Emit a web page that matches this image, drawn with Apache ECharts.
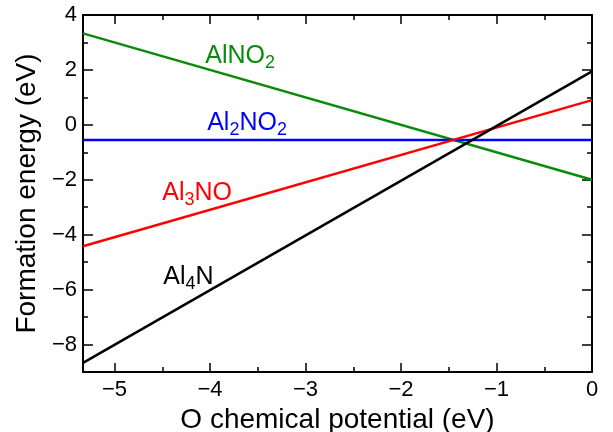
<!DOCTYPE html>
<html>
<head>
<meta charset="utf-8">
<script src="https://cdn.jsdelivr.net/npm/echarts@6/dist/echarts.min.js"></script>
<style>
  html, body { margin: 0; padding: 0; background: #fff; }
  #main { width: 613px; height: 432px; }
</style>
</head>
<body>
<div id="main"></div>
<script>
// x range of the plot (O chemical potential, eV)
var xMin = -5.33
var xMax = 0
var yMin = -9
var yMax = 4

// line end points [x, y]
var alno2 = [[-5.33, 3.33], [0, -2.0]]
var al2no2 = [[-5.33, -0.55], [0, -0.55]]
var al3no = [[-5.33, -4.42], [0, 0.9]]
var al4n = [[-5.33, -8.67], [0, 1.95]]

// ticks
var xMajor = [-5, -4, -3, -2, -1, 0]
var xMinor = [-4.5, -3.5, -2.5, -1.5, -0.5]
var yMajor = [-8, -6, -4, -2, 0, 2, 4]
var yMinor = [-7, -5, -3, -1, 1, 3]

// text labels next to the lines
var labelText = ['{n|AlNO}{s|2}', '{n|Al}{s|2}{n|NO}{s|2}', '{n|Al}{s|3}{n|NO}', '{n|Al}{s|4}{n|N}']
var labelPos = [[-4.05, 2.5], [-4.03, 0.06], [-4.5, -2.47], [-4.49, -5.53]]
var colors = ['#0a8a0a', '#0000ff', '#ff0000', '#000000']

var font = 'Liberation Sans, Arial, Helvetica, sans-serif'
var minus = function (v) { return String(v).replace('-', '\u2212') }

function tickAxis (kind, pos, values, len, showLine, labels) {
  var ax = {
    type: 'value',
    position: pos,
    min: kind === 'x' ? xMin : yMin,
    max: kind === 'x' ? xMax : yMax,
    splitLine: {show: false},
    axisLine: {show: showLine, onZero: false, lineStyle: {color: '#000', width: 2}},
    axisTick: {show: true, inside: true, length: len, customValues: values, lineStyle: {color: '#000', width: 1.5}},
    axisLabel: {show: false}
  }
  if (labels) {
    ax.axisLabel = {
      show: true,
      customValues: values,
      formatter: minus,
      color: '#000',
      fontSize: 22,
      fontFamily: font,
      margin: kind === 'x' ? 7 : 6
    }
  }
  return ax
}

var xAxes = [
  tickAxis('x', 'bottom', xMajor, 9, true, true),
  tickAxis('x', 'bottom', xMinor, 5, false, false),
  tickAxis('x', 'top', xMajor, 9, true, false),
  tickAxis('x', 'top', xMinor, 5, false, false)
]
xAxes[0].name = 'O chemical potential (eV)'
xAxes[0].nameLocation = 'middle'
xAxes[0].nameGap = 20
xAxes[0].nameTextStyle = {fontSize: 28, fontFamily: font, color: '#000'}

var yAxes = [
  tickAxis('y', 'left', yMajor, 10, true, true),
  tickAxis('y', 'left', yMinor, 5, false, false),
  tickAxis('y', 'right', yMajor, 10, true, false),
  tickAxis('y', 'right', yMinor, 5, false, false)
]
yAxes[0].name = 'Formation energy (eV)'
yAxes[0].nameLocation = 'middle'
yAxes[0].nameGap = 41
yAxes[0].nameTextStyle = {fontSize: 28, fontFamily: font, color: '#000'}

var lines = [alno2, al2no2, al3no, al4n]
var series = lines.map(function (d, i) {
  return {
    type: 'line',
    data: d,
    symbol: 'none',
    silent: true,
    lineStyle: {color: colors[i], width: 2.5},
    markPoint: {
      symbol: 'circle',
      symbolSize: 0,
      silent: true,
      data: [{coord: labelPos[i]}],
      label: {
        show: true,
        position: 'right',
        distance: 0,
        formatter: labelText[i],
        rich: {
          n: {fontSize: 25, fontFamily: font, color: colors[i], lineHeight: 30},
          s: {fontSize: 18, fontFamily: font, color: colors[i], lineHeight: 30, padding: [14, 0, 0, 0]}
        }
      }
    }
  }
})

var option = {
  animation: false,
  backgroundColor: '#fff',
  grid: {left: 83, right: 21, top: 15, bottom: 60, outerBoundsMode: 'none'},
  xAxis: xAxes,
  yAxis: yAxes,
  series: series
}

var myChart = echarts.init(document.getElementById('main'))
myChart.setOption(option)
</script>
</body>
</html>
